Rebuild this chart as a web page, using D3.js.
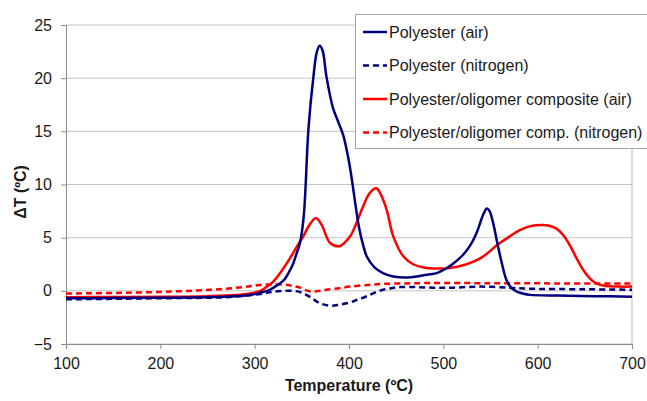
<!DOCTYPE html>
<html>
<head>
<meta charset="utf-8">
<script src="https://cdn.jsdelivr.net/npm/d3@7"></script>
<style>
  body { margin: 0; background: #fff; }
  text { font-family: "Liberation Sans", Arial, sans-serif; fill: #1a1a1a; }
</style>
</head>
<body>
<div id="chart"></div>
<script>
// chart data
var polyAirT = [100, 150, 200, 250, 280, 295, 305, 316, 325, 331, 336, 341, 344, 348, 352, 357, 362, 366, 369, 372, 376, 383, 389, 394, 399, 403, 407, 411, 415, 419, 427, 436, 447, 461, 475, 486, 493, 502, 511, 520, 528, 535, 542, 546, 549, 553, 557, 562, 567, 572, 578, 585, 592, 620, 660, 700];
var polyAirV = [-0.7, -0.68, -0.65, -0.6, -0.5, -0.4, -0.2, 0.1, 0.6, 1.0, 1.7, 2.6, 3.4, 4.5, 7.0, 15.2, 19.9, 22.5, 23.05, 22.6, 20.2, 17.2, 15.8, 14.6, 12.6, 10.5, 8.0, 5.8, 4.3, 3.2, 2.2, 1.67, 1.35, 1.25, 1.4, 1.55, 1.67, 2.05, 2.6, 3.3, 4.2, 5.4, 7.1, 7.75, 7.5, 6.3, 4.6, 2.6, 1.0, 0.3, -0.07, -0.28, -0.38, -0.45, -0.5, -0.55];

var polyN2T = [100, 150, 200, 250, 271, 290, 306, 318, 327, 341, 351, 360, 369, 380, 390, 401, 410, 419, 428, 436, 445, 454, 470, 489, 510, 539, 570, 592, 650, 700];
var polyN2V = [-0.8, -0.75, -0.7, -0.65, -0.6, -0.45, -0.3, -0.1, -0.02, 0.0, -0.2, -0.65, -1.16, -1.4, -1.3, -1.1, -0.8, -0.5, -0.15, 0.1, 0.25, 0.35, 0.35, 0.3, 0.3, 0.4, 0.3, 0.2, 0.15, 0.1];

var compAirT = [100, 150, 200, 250, 280, 295, 306, 313, 320, 328, 337, 345, 352, 358, 365, 371, 380, 390, 401, 408, 415, 422, 429, 434, 440, 447, 458, 468, 479, 493, 507, 521, 540, 557, 570, 581, 593, 605, 613, 620, 627, 634, 641, 648, 655, 662, 672, 685, 700];
var compAirV = [-0.6, -0.58, -0.56, -0.5, -0.4, -0.25, 0.0, 0.4, 0.9, 1.8, 3.0, 4.2, 5.2, 6.2, 6.86, 6.2, 4.5, 4.2, 5.1, 6.4, 7.95, 9.2, 9.65, 9.0, 7.6, 5.1, 3.2, 2.5, 2.2, 2.1, 2.15, 2.4, 3.1, 4.3, 5.1, 5.7, 6.1, 6.2, 6.1, 5.85, 5.25, 4.3, 3.1, 2.0, 1.2, 0.7, 0.45, 0.4, 0.4];

var compN2T = [100, 150, 200, 253, 288, 305, 323, 335, 341, 348, 353, 359, 366, 376, 390, 401, 420, 436, 460, 486, 550, 620, 700];
var compN2V = [-0.25, -0.2, -0.1, 0.1, 0.35, 0.55, 0.6, 0.55, 0.45, 0.3, 0.1, -0.05, -0.05, 0.1, 0.25, 0.4, 0.55, 0.65, 0.7, 0.73, 0.72, 0.7, 0.7];

var seriesNames = ["Polyester (air)", "Polyester (nitrogen)", "Polyester/oligomer composite (air)", "Polyester/oligomer comp. (nitrogen)"];
var seriesColors = ["#000080", "#000080", "#ff0000", "#ff0000"];
var seriesDash = [null, "6,4", null, "6,4"];

var xTicks = [100, 200, 300, 400, 500, 600, 700];
var yTicks = [-5, 0, 5, 10, 15, 20, 25];

// set the dimensions and margins of the graph
var margin = {top: 25, right: 15, bottom: 57, left: 66},
    width = 647 - margin.left - margin.right,
    height = 401 - margin.top - margin.bottom;

var root = d3.select("#chart")
  .append("svg")
    .attr("width", 647)
    .attr("height", 401);

var svg = root.append("g")
    .attr("transform", "translate(" + margin.left + "," + margin.top + ")");

var x = d3.scaleLinear().domain([100, 700]).range([0, width]);
var y = d3.scaleLinear().domain([-5, 25]).range([height, 0]);

// horizontal gridlines
svg.append("g")
  .selectAll("line")
  .data(yTicks)
  .enter().append("line")
    .attr("x1", 0)
    .attr("x2", width)
    .attr("y1", function(d) { return y(d); })
    .attr("y2", function(d) { return y(d); })
    .style("stroke", "#c4c4c4")
    .style("stroke-width", 1);

// right border of the plot area
svg.append("line")
  .attr("x1", width).attr("x2", width)
  .attr("y1", 0).attr("y2", height)
  .style("stroke", "#b8b8b8");

// axes
var xAxis = svg.append("g")
  .attr("transform", "translate(0," + height + ")")
  .call(d3.axisBottom(x).tickValues(xTicks).tickSize(5).tickPadding(9));

var yAxis = svg.append("g")
  .call(d3.axisLeft(y).tickValues(yTicks).tickSize(5).tickPadding(9));

[xAxis, yAxis].forEach(function(a) {
  a.select(".domain").style("stroke", "#8c8c8c");
  a.selectAll(".tick line").style("stroke", "#8c8c8c");
  a.selectAll("text")
    .style("font-size", "16px")
    .style("fill", "#1a1a1a")
    .style("font-family", "Liberation Sans, Arial, sans-serif");
});

// axis titles
svg.append("text")
  .attr("x", width / 2)
  .attr("y", height + 47)
  .style("text-anchor", "middle")
  .style("font-size", "16px")
  .style("font-weight", "bold")
  .text("Temperature (ºC)");

svg.append("text")
  .attr("transform", "rotate(-90)")
  .attr("x", -(y(9.3)))
  .attr("y", -40)
  .style("text-anchor", "middle")
  .style("font-size", "16px")
  .style("font-weight", "bold")
  .text("ΔT (ºC)");

// curves
var allT = [polyAirT, polyN2T, compAirT, compN2T];
var allV = [polyAirV, polyN2V, compAirV, compN2V];

var line = d3.line()
  .x(function(d) { return x(d[0]); })
  .y(function(d) { return y(d[1]); })
  .curve(d3.curveCatmullRom.alpha(0.5));

// nitrogen first, air curves on top
[3, 1, 2, 0].forEach(function(i) {
  var pts = allT[i].map(function(t, j) { return [t, allV[i][j]]; });
  svg.append("path")
    .datum(pts)
    .attr("d", line)
    .style("fill", "none")
    .style("stroke", seriesColors[i])
    .style("stroke-width", 2.5)
    .style("stroke-dasharray", seriesDash[i]);
});

// legend
var legend = root.append("g").attr("transform", "translate(355,14)");
legend.append("rect")
  .attr("x", 0.5).attr("y", 0.5)
  .attr("width", 300).attr("height", 134)
  .style("fill", "#fff")
  .style("stroke", "#a6a6a6");

seriesNames.forEach(function(name, i) {
  var cy = 18 + i * 33.5;
  legend.append("line")
    .attr("x1", 8).attr("x2", 32)
    .attr("y1", cy).attr("y2", cy)
    .style("stroke", seriesColors[i])
    .style("stroke-width", 2.5)
    .style("stroke-dasharray", seriesDash[i]);
  legend.append("text")
    .attr("x", 34)
    .attr("y", cy)
    .attr("dy", "0.35em")
    .style("font-size", "16px")
    .text(name);
});
</script>
</body>
</html>
